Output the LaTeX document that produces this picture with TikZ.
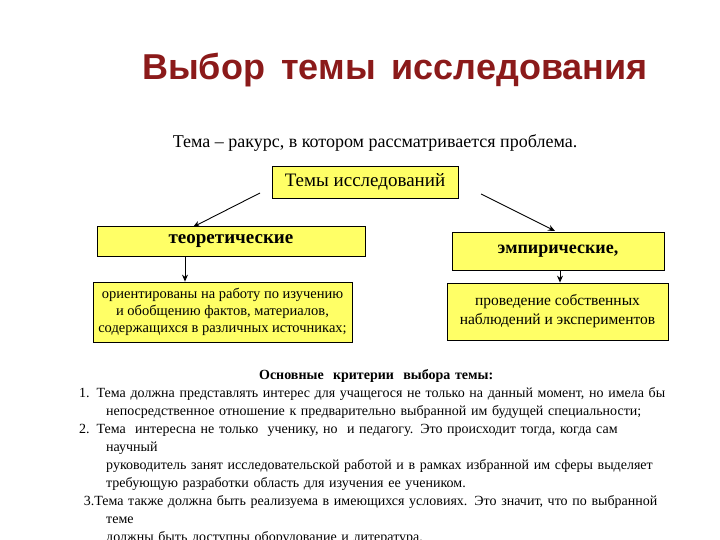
\documentclass[tikz,border=0pt]{standalone}
\usetikzlibrary{arrows.meta}
\usepackage{fontspec}
\setmainfont{Liberation Serif}
\newfontfamily\titlefont{Liberation Sans}
\definecolor{ttl}{HTML}{8B1A1A}
\definecolor{yel}{HTML}{FFFF66}
\begin{document}
\begin{tikzpicture}[x=1pt,y=-1pt,
  ybox/.style={draw=black,fill=yel,line width=0.8pt,inner sep=0pt,align=center},
  arr/.style={-{Stealth[length=7pt,width=6pt]},line width=0.9pt}]
\useasboundingbox (0,0) rectangle (720,540);
\node[text=ttl,font=\titlefont\bfseries\fontsize{36}{40}\selectfont] (title) at (395,70) {Выбор\, темы\, исследования};
\node[font=\fontsize{18}{20}\selectfont] (sub) at (375,143) {Тема – ракурс, в котором рассматривается проблема.};
\node[ybox,minimum width=186pt,minimum height=32pt,font=\fontsize{19}{20}\selectfont] (tm) at (365,182) {Темы исследований};
\node[ybox,minimum width=268pt,minimum height=30pt,font=\bfseries\fontsize{19}{20}\selectfont] (teo) at (231,241) {теоретические};
\node[ybox,minimum width=212pt,minimum height=38pt,font=\bfseries\fontsize{18}{20}\selectfont] (emp) at (558,251) {эмпирические,};
\node[ybox,minimum width=259pt,minimum height=60pt,font=\fontsize{14.5}{17}\selectfont] (teod) at (222.5,312) {ориентированы на работу по изучению\\и обобщению фактов, материалов,\\содержащихся в различных источниках;};
\node[ybox,minimum width=221pt,minimum height=57pt,font=\fontsize{15.5}{19}\selectfont] (empd) at (557.5,311.5) {проведение собственных\\наблюдений и экспериментов};
\coordinate (a1) at (260,193);
\coordinate (a2) at (481,194);
\coordinate (b1) at (193,227);
\coordinate (b2) at (555,231);
\draw[arr] (a1) -- (b1);
\draw[arr] (a2) -- (b2);
\draw[arr] (teo.south -| 185,0) -- (teod.north -| 185,0);
\draw[arr] (emp.south -| 560,0) -- (empd.north -| 560,0);
\node[anchor=north west,inner sep=0pt,text width=594pt,font=\fontsize{14}{18}\selectfont] (crit) at (79,369) {%
\centerline{\bfseries Основные\ \ критерии\ \ выбора темы:}\par
\hangindent=27pt\hangafter=1 1. Тема должна представлять интерес для учащегося не только на данный момент, но имела бы\linebreak непосредственное отношение к предварительно выбранной им будущей специальности;\par
\hangindent=27pt\hangafter=1 2. Тема\ \ интересна не только\ \ ученику, но\ \ и педагогу. Это происходит тогда, когда сам научный\linebreak руководитель занят исследовательской работой и в рамках избранной им сферы выделяет\linebreak требующую разработки область для изучения ее учеником.\par
\hangindent=27pt\hangafter=1 \ 3.Тема также должна быть реализуема в имеющихся условиях. Это значит, что по выбранной теме\linebreak должны быть доступны оборудование и литература.\par};
\end{tikzpicture}
\end{document}
